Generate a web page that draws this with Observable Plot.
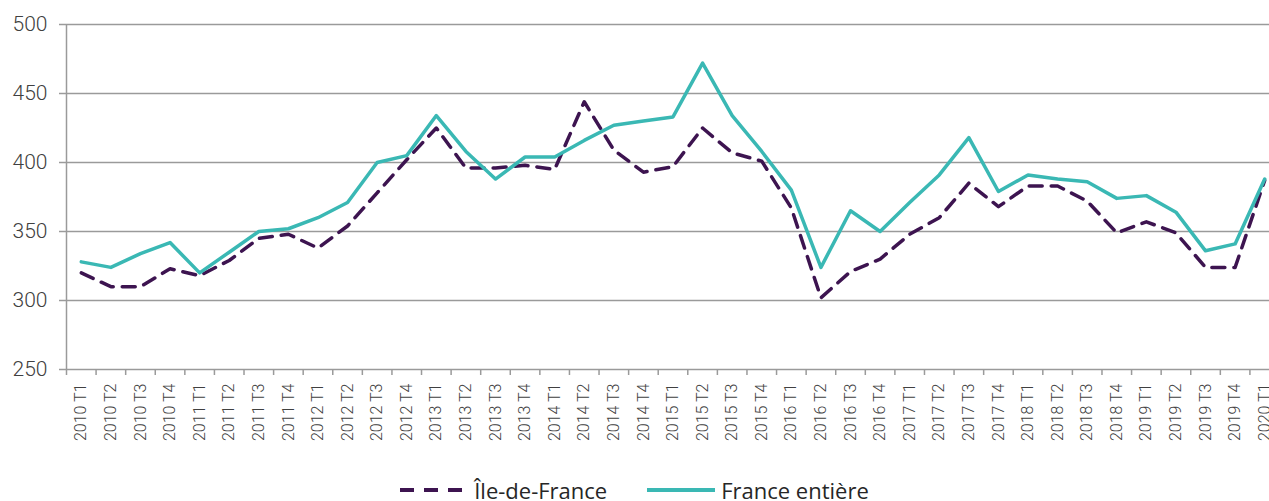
<!DOCTYPE html>
<html><head><meta charset="utf-8">
<script src="https://cdn.jsdelivr.net/npm/d3@7"></script>
<script src="https://cdn.jsdelivr.net/npm/@observablehq/plot@0.6"></script>
<style>
html,body{margin:0;padding:0;background:#fff;overflow:hidden;width:1269px;height:501px}
#chart svg{display:block}
#legend{display:flex;justify-content:center;align-items:center;height:29px;margin-top:3px;font-family:"Open Sans",sans-serif;font-size:22px;color:#262626;gap:40px}
#legend .item{display:flex;align-items:center}
#legend .item span{margin-left:6px}
</style></head><body>
<div id="chart"></div>
<div id="legend"></div>
<script>
const periods = [
  "2010 T1","2010 T2","2010 T3","2010 T4",
  "2011 T1","2011 T2","2011 T3","2011 T4",
  "2012 T1","2012 T2","2012 T3","2012 T4",
  "2013 T1","2013 T2","2013 T3","2013 T4",
  "2014 T1","2014 T2","2014 T3","2014 T4",
  "2015 T1","2015 T2","2015 T3","2015 T4",
  "2016 T1","2016 T2","2016 T3","2016 T4",
  "2017 T1","2017 T2","2017 T3","2017 T4",
  "2018 T1","2018 T2","2018 T3","2018 T4",
  "2019 T1","2019 T2","2019 T3","2019 T4",
  "2020 T1"
];
const ileDeFrance = [
  320,310,310,323, 318,329,345,348, 338,354,378,402,
  425,396,396,398, 395,444,409,393, 397,425,407,401,
  367,302,321,330, 348,360,385,368, 383,383,372,349,
  357,349,324,324, 387
];
const franceEntiere = [
  328,324,334,342, 320,335,350,352, 360,371,400,405,
  434,408,388,404, 404,416,427,430, 433,472,434,408,
  380,324,365,350, 371,391,418,379, 391,388,386,374,
  376,364,336,341, 388
];
const yTicks = [250,300,350,400,450,500];
const seriesNames = ["Île-de-France","France entière"];
const seriesColors = ["#3d1450","#3ab8b4"];

const rows = periods.map((p,i)=>({period:p, ile:ileDeFrance[i], fr:franceEntiere[i]}));

const W = 1269, H = 472, mL = 66, mR = -10;
const step = (W - mL - mR) / periods.length;
const gray = "#9a9a9a";
const txt = "#404040";

const chart = Plot.plot({
  width: W, height: H,
  marginLeft: mL, marginRight: mR, marginTop: 24, marginBottom: 103,
  style: {fontFamily: "Roboto, 'Open Sans', sans-serif", background: "#fff", overflow: "hidden"},
  x: {type: "point", domain: periods, padding: 0.5, round: false},
  y: {domain: [250, 500]},
  marks: [
    Plot.gridY({ticks: yTicks, stroke: gray, strokeOpacity: 1, strokeWidth: 1.5}),
    Plot.axisY({ticks: yTicks, tickSize: 7, tickPadding: 12, fontSize: 21, fontWeight: 300, stroke: gray, strokeWidth: 1.5, fill: txt, label: null}),
    Plot.ruleX([periods[0]], {x: d => d, y1: 250, y2: 500, dx: -step/2, stroke: gray, strokeWidth: 1.5}),
    Plot.axisX({tickSize: 6, tickFormat: () => "", dx: -step/2, stroke: gray, strokeWidth: 1.5, label: null}),
    Plot.axisX({tickSize: 0, tickPadding: 14, tickRotate: -90, fontSize: 16, fontWeight: 300, fill: txt, label: null}),
    Plot.line(rows, {x: "period", y: "ile", stroke: seriesColors[0], strokeWidth: 3.5, strokeDasharray: "13,9"}),
    Plot.line(rows, {x: "period", y: "fr", stroke: seriesColors[1], strokeWidth: 3.5})
  ]
});
document.getElementById("chart").appendChild(chart);

const legend = document.getElementById("legend");
seriesNames.forEach((name, i) => {
  const item = document.createElement("div");
  item.className = "item";
  const dash = i === 0 ? 'stroke-dasharray="14,10"' : '';
  item.innerHTML = `<svg width="68" height="8"><line x1="0" y1="4" x2="68" y2="4" stroke="${seriesColors[i]}" stroke-width="4" ${dash}/></svg><span>${name}</span>`;
  legend.appendChild(item);
});
</script>
</body></html>
